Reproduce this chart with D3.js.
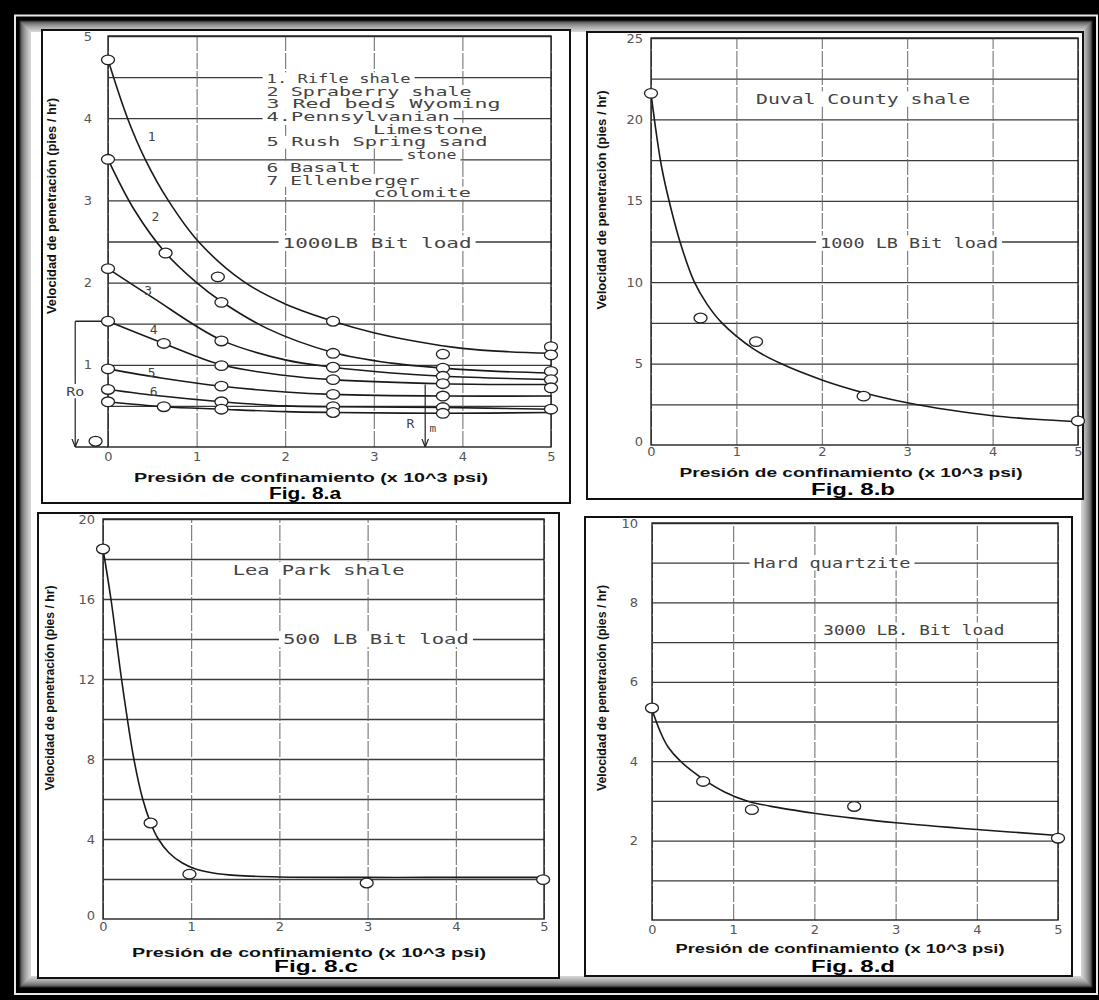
<!DOCTYPE html>
<html>
<head>
<meta charset="utf-8">
<script src="https://cdn.jsdelivr.net/npm/d3@7"></script>
<style>
  body { margin: 0; background: #000; }
  svg { display: block; }
</style>
</head>
<body>
<script>
var W = 1099, H = 1000;

// ---------- data ----------
var pressureTicks = [0, 1, 2, 3, 4, 5];
var xTitle = "Presión de confinamiento (x 10^3 psi)";
var yTitle = "Velocidad de penetración (pies / hr)";

// Fig. 8.a  (7 rocks, 1000 lb bit load)
var aGridY = [0.5, 1, 1.5, 2, 2.5, 3, 3.5, 4, 4.5, 5];
var aYLabels = [1, 2, 3, 4, 5];
var aCurves = [
  [[0,4.71],[0.22,4.0],[0.42,3.5],[0.68,3.0],[1.02,2.5],[1.52,2.02],[2.0,1.74],[2.54,1.53],[3.0,1.39],[3.5,1.28],[4.0,1.2],[4.5,1.16],[5,1.14]],
  [[0,3.5],[0.3,2.88],[0.65,2.36],[1.0,2.0],[1.28,1.77],[1.8,1.44],[2.54,1.15],[3.2,1.02],[3.78,0.96],[4.4,0.92],[5,0.9]],
  [[0,2.17],[0.5,1.82],[1.28,1.3],[2,1.06],[2.54,0.97],[3.2,0.9],[3.78,0.86],[5,0.82]],
  [[0,1.53],[0.63,1.26],[1.28,1.0],[2,0.87],[2.54,0.82],[3.78,0.77],[5,0.76]],
  [[0,0.95],[0.6,0.84],[1.28,0.74],[2,0.67],[2.54,0.64],[3.78,0.62],[5,0.62]],
  [[0,0.70],[0.6,0.62],[1.28,0.55],[2,0.5],[2.54,0.49],[3.78,0.48],[5,0.46]],
  [[0,0.55],[0.63,0.49],[1.28,0.46],[2,0.43],[2.54,0.42],[3.78,0.41],[5,0.42]]
];
var aPoints = [
  [[0,4.71],[1.24,2.07],[2.54,1.53],[3.78,1.13],[5,1.22]],
  [[0,3.5],[0.65,2.36],[1.28,1.76],[2.54,1.14],[3.78,0.96],[5,1.12]],
  [[0,2.17],[1.28,1.29],[2.54,0.97],[3.78,0.86],[5,0.92]],
  [[0,1.53],[0.63,1.26],[1.28,0.99],[2.54,0.82],[3.78,0.77],[5,0.82]],
  [[0,0.95],[1.28,0.74],[2.54,0.64],[3.78,0.62],[5,0.72]],
  [[0,0.70],[1.28,0.55],[2.54,0.49],[3.78,0.48],[5,0.46]],
  [[0,0.55],[0.63,0.49],[1.28,0.46],[2.54,0.42],[3.78,0.41]],
  [[-0.14,0.07]]
];
var aCurveNames = ["1", "2", "3", "4", "5", "6"];
var aLegendText = ["1. Rifle shale", "2 Spraberry shale", "3 Red beds Wyoming", "4.Pennsylvanian",
  "Limestone", "5 Rush Spring sand", "stone", "6 Basalt", "7 Ellenberger", "colomite"];
var aLoadText = "1000LB Bit load";
var aRo = 1.53, aRm = 0.76;

// Fig. 8.b  Duval County shale
var bGridY = [2.5, 5, 7.5, 10, 12.5, 15, 17.5, 20, 22.5, 25];
var bYLabels = [0, 5, 10, 15, 20, 25];
var bCurve = [[0,21.6],[0.12,17.2],[0.23,14.6],[0.35,12.3],[0.5,10.1],[0.65,8.7],[0.83,7.5],[1.2,5.9],[1.52,5.0],[2,4.0],[2.5,3.2],[3,2.6],[3.5,2.15],[4,1.8],[4.5,1.58],[5,1.43]];
var bPoints = [[0,21.6],[0.58,7.8],[1.23,6.35],[2.49,3.0],[5,1.48]];
var bText = ["Duval County shale", "1000 LB  Bit load"];

// Fig. 8.c  Lea Park shale
var cGridY = [2, 4, 6, 8, 10, 12, 14, 16, 18, 20];
var cYLabels = [0, 4, 8, 12, 16, 20];
var cCurve = [[0,18.5],[0.09,16],[0.21,12],[0.35,8],[0.45,6],[0.54,4.8],[0.62,4.05],[0.75,3.3],[0.9,2.8],[1.05,2.5],[1.25,2.3],[1.5,2.18],[2,2.1],[3,2.08],[4,2.08],[5,2.08]];
var cPoints = [[0,18.5],[0.54,4.8],[0.98,2.24],[2.99,1.8],[4.99,1.97]];
var cText = ["Lea  Park  shale", "500 LB  Bit load"];

// Fig. 8.d  Hard quartzite
var dGridY = [1, 2, 3, 4, 5, 6, 7, 8, 9, 10];
var dYLabels = [2, 4, 6, 8, 10];
var dCurve = [[0,5.3],[0.1,4.75],[0.2,4.35],[0.35,4.0],[0.63,3.55],[0.9,3.22],[1.17,3.0],[1.5,2.85],[2,2.69],[2.5,2.56],[3,2.45],[4,2.28],[5,2.13]];
var dPoints = [[0,5.34],[0.63,3.49],[1.23,2.78],[2.49,2.86],[5,2.06]];
var dText = ["Hard  quartzite", "3000 LB. Bit load"];

// ---------- frame ----------
var svg = d3.select("body").append("svg").attr("width", W).attr("height", H);
svg.append("rect").attr("width", W).attr("height", H).attr("fill", "#000");
svg.append("rect").attr("x", 15).attr("y", 15.5).attr("width", 1082).attr("height", 978.5)
  .attr("fill", "none").attr("stroke", "#e8e8e8").attr("stroke-width", 2);
var shade = d3.interpolateRgb("#202020", "#ffffff");
for (var i = 0; i < 12; i++) {
  svg.append("rect").attr("x", 20 + i).attr("y", 21 + i)
    .attr("width", 1072 - 2 * i).attr("height", 966 - 2 * i)
    .attr("fill", i == 11 ? "#fff" : "none")
    .attr("stroke", shade(Math.sqrt(i / 11))).attr("stroke-width", 1.2);
}

var defs = svg.append("defs");
defs.append("marker").attr("id", "arrow").attr("viewBox", "0 0 10 10")
  .attr("refX", 10).attr("refY", 5).attr("markerWidth", 7).attr("markerHeight", 7)
  .attr("orient", "auto")
  .append("path").attr("d", "M0,1 L10,5 L0,9").attr("fill", "none").attr("stroke", "#222").attr("stroke-width", 1.4);

var tickFont = "DejaVu Sans";
var noteFont = "DejaVu Sans Mono";
var titleFont = "Liberation Sans, Arial, sans-serif";

// white patch that interrupts the grid under a lettered note
function patch(g, px, py, len, size) {
  g.append("rect").attr("x", px - 4).attr("y", py - size * 0.55)
    .attr("width", len + 8).attr("height", size * 1.1).attr("fill", "#fff");
}

function note(g, txt, px, py, len, size, bg) {
  size = size || 14;
  if (bg) patch(g, px, py, len || txt.length * size * 0.6, size);
  var t = g.append("text").attr("x", px).attr("y", py)
    .attr("dominant-baseline", "central")
    .attr("font-family", noteFont).attr("font-size", size)
    .attr("fill", "#444").text(txt);
  if (len) t.attr("textLength", len).attr("lengthAdjust", "spacingAndGlyphs");
  return t;
}

function panel(cfg) {
  var g = svg.append("g");
  var box = cfg.box, p = cfg.plot;
  g.append("rect").attr("x", box[0]).attr("y", box[1])
    .attr("width", box[2] - box[0]).attr("height", box[3] - box[1])
    .attr("fill", "#fff").attr("stroke", "#111").attr("stroke-width", 2);

  var x = d3.scaleLinear().domain([0, 5]).range([p[0], p[2]]);
  var y = d3.scaleLinear().domain([0, cfg.ymax]).range([p[3], p[1]]);

  // horizontal grid + y tick labels
  var ya = g.append("g").attr("transform", "translate(" + p[0] + ",0)")
    .call(d3.axisLeft(y).tickValues(cfg.gridY).tickSize(-(p[2] - p[0])).tickPadding(cfg.yPad)
      .tickFormat(function(d) { return cfg.yLabels.indexOf(d) >= 0 ? d : ""; }));
  ya.select(".domain").remove();
  ya.selectAll("line").attr("stroke", "#3a3a3a").attr("stroke-width", 1.3);
  ya.selectAll("text").attr("font-family", tickFont).attr("font-size", 13).attr("fill", "#555");
  if (cfg.yLabels.indexOf(0) >= 0) {
    g.append("text").attr("x", p[0] - cfg.yPad).attr("y", y(0) - 4)
      .attr("text-anchor", "end").attr("dominant-baseline", "central")
      .attr("font-family", tickFont).attr("font-size", 13).attr("fill", "#555").text("0");
  }

  // vertical grid + x tick labels
  var xa = g.append("g").attr("transform", "translate(0," + p[3] + ")")
    .call(d3.axisBottom(x).tickValues(pressureTicks).tickSize(-(p[3] - p[1])).tickPadding(cfg.xPad)
      .tickFormat(d3.format("d")));
  xa.select(".domain").remove();
  xa.selectAll("line").attr("stroke", "#666").attr("stroke-width", 1).attr("stroke-dasharray", "16,2");
  xa.selectAll("text").attr("font-family", tickFont).attr("font-size", 13).attr("fill", "#555");

  // plot frame
  g.append("rect").attr("x", p[0]).attr("y", p[1]).attr("width", p[2] - p[0]).attr("height", p[3] - p[1])
    .attr("fill", "none").attr("stroke", "#222").attr("stroke-width", 1.4);

  (cfg.notes || []).forEach(function(n) {
    note(g, n.t, x(n.x), y(n.y), n.len, 14, true);
  });

  // titles
  g.append("text").attr("x", cfg.xt[0]).attr("y", cfg.xt[1]).attr("text-anchor", "middle")
    .attr("dominant-baseline", "central").attr("font-family", titleFont).attr("font-weight", "bold")
    .attr("font-size", 13).attr("fill", "#111")
    .attr("textLength", cfg.xt[2]).attr("lengthAdjust", "spacingAndGlyphs").text(xTitle);
  g.append("text").attr("x", cfg.fig[0]).attr("y", cfg.fig[1]).attr("text-anchor", "middle")
    .attr("dominant-baseline", "central").attr("font-family", titleFont).attr("font-weight", "bold")
    .attr("font-size", 16).attr("fill", "#000")
    .attr("textLength", cfg.fig[2]).attr("lengthAdjust", "spacingAndGlyphs").text(cfg.figText);
  g.append("text").attr("transform", "translate(" + cfg.yt[0] + "," + cfg.yt[1] + ") rotate(-90)")
    .attr("text-anchor", "middle").attr("dominant-baseline", "central")
    .attr("font-family", titleFont).attr("font-weight", "bold").attr("font-size", 12).attr("fill", "#111")
    .attr("textLength", cfg.yt[2]).attr("lengthAdjust", "spacingAndGlyphs").text(yTitle);

  return { g: g, x: x, y: y };
}

function drawCurves(P, curves) {
  var line = d3.line().x(function(d) { return P.x(d[0]); }).y(function(d) { return P.y(d[1]); })
    .curve(d3.curveCatmullRom.alpha(0.5));
  P.g.selectAll(".curve").data(curves).enter().append("path").attr("class", "curve")
    .attr("d", line).attr("fill", "none").attr("stroke", "#1a1a1a").attr("stroke-width", 1.6);
}

function drawPoints(P, pts) {
  P.g.selectAll(".pt").data(pts).enter().append("ellipse").attr("class", "pt")
    .attr("cx", function(d) { return P.x(d[0]); }).attr("cy", function(d) { return P.y(d[1]); })
    .attr("rx", 6.5).attr("ry", 4.8).attr("fill", "#fff").attr("stroke", "#222").attr("stroke-width", 1.3);
}

// ---------- Fig. 8.a ----------
var A = panel({
  box: [42, 30, 570, 503], plot: [108, 36, 551, 447], ymax: 5,
  gridY: aGridY, yLabels: aYLabels, yPad: 16, xPad: 5,
  notes: [{ t: aLoadText, x: 1.97, y: 2.48, len: 189 }],
  xt: [311, 477, 354], fig: [305, 493, 72], figText: "Fig. 8.a", yt: [52, 206, 216]
});
// legend: one lettered block, one line per tspan, evenly spaced rows
var legendPos = [[1.79,144],[1.79,205],[1.79,234],[1.79,183],[2.99,110],
  [1.79,221],[3.37,50],[1.79,94],[1.79,153],[3.0,97]];
var legTop = A.y(4.48), legStep = 12.7;
legendPos.forEach(function(q, i) { patch(A.g, A.x(q[0]), legTop + i * legStep, q[1], 11.6); });
var leg = A.g.append("text").attr("font-family", noteFont).attr("font-size", 12).attr("fill", "#444");
leg.selectAll("tspan").data(aLegendText).enter().append("tspan")
  .attr("x", function(d, i) { return A.x(legendPos[i][0]); })
  .attr("y", function(d, i) { return legTop + i * legStep + 4.2; })
  .attr("textLength", function(d, i) { return legendPos[i][1]; })
  .attr("lengthAdjust", "spacingAndGlyphs")
  .text(function(d) { return d; });

// Ro / Rm brackets
var roX = A.x(-0.37);
A.g.append("line").attr("x1", roX).attr("x2", A.x(0)).attr("y1", A.y(aRo)).attr("y2", A.y(aRo))
  .attr("stroke", "#222").attr("stroke-width", 1.4);
A.g.append("line").attr("x1", roX).attr("x2", A.x(0)).attr("y1", A.y(0)).attr("y2", A.y(0))
  .attr("stroke", "#222").attr("stroke-width", 1.4);
A.g.append("line").attr("x1", roX).attr("x2", roX).attr("y1", A.y(aRo)).attr("y2", A.y(0))
  .attr("stroke", "#222").attr("stroke-width", 1.2).attr("marker-end", "url(#arrow)");
note(A.g, "Ro", roX - 9, A.y(0.68), 18, 13, true);
var rmX = A.x(3.58);
A.g.append("line").attr("x1", rmX).attr("x2", rmX).attr("y1", A.y(aRm)).attr("y2", A.y(0))
  .attr("stroke", "#222").attr("stroke-width", 1.2).attr("marker-end", "url(#arrow)");
note(A.g, "R", A.x(3.37), A.y(0.29), null, 13, false);
note(A.g, "m", A.x(3.63), A.y(0.22), null, 11, false);
drawCurves(A, aCurves);
var numPos = [[0.45,3.78],[0.49,2.8],[0.41,1.9],[0.47,1.43],[0.45,0.91],[0.47,0.67]];
aCurveNames.forEach(function(t, i) {
  note(A.g, t, A.x(numPos[i][0]), A.y(numPos[i][1]), null, 13, false);
});
drawPoints(A, d3.merge(aPoints));

// ---------- Fig. 8.b ----------
var B = panel({
  box: [587, 32, 1083, 499], plot: [651, 38, 1078, 445], ymax: 25,
  gridY: bGridY, yLabels: bYLabels, yPad: 8, xPad: 2,
  notes: [{ t: bText[0], x: 1.23, y: 21.25, len: 214 }, { t: bText[1], x: 1.98, y: 12.4, len: 178 }],
  xt: [851, 472, 343], fig: [853, 489, 84], figText: "Fig. 8.b", yt: [602, 200, 219]
});
drawCurves(B, [bCurve]);
drawPoints(B, bPoints);

// ---------- Fig. 8.c ----------
var C = panel({
  box: [38, 513, 559, 978], plot: [103, 519, 544, 919], ymax: 20,
  gridY: cGridY, yLabels: cYLabels, yPad: 8, xPad: 3,
  notes: [{ t: cText[0], x: 1.47, y: 17.46, len: 172 }, { t: cText[1], x: 2.04, y: 13.98, len: 186 }],
  xt: [309, 952, 354], fig: [316, 966, 84], figText: "Fig. 8.c", yt: [50, 688, 205]
});
drawCurves(C, [cCurve]);
drawPoints(C, cPoints);

// ---------- Fig. 8.d ----------
var D = panel({
  box: [585, 517, 1072, 976], plot: [652, 523, 1058, 920], ymax: 10,
  gridY: dGridY, yLabels: dYLabels, yPad: 14, xPad: 5,
  notes: [{ t: dText[0], x: 1.25, y: 9.0, len: 157 }, { t: dText[1], x: 2.11, y: 7.3, len: 181 }],
  xt: [840, 948, 329], fig: [853, 966, 84], figText: "Fig. 8.d", yt: [602, 688, 206]
});
drawCurves(D, [dCurve]);
drawPoints(D, dPoints);
</script>
</body>
</html>
